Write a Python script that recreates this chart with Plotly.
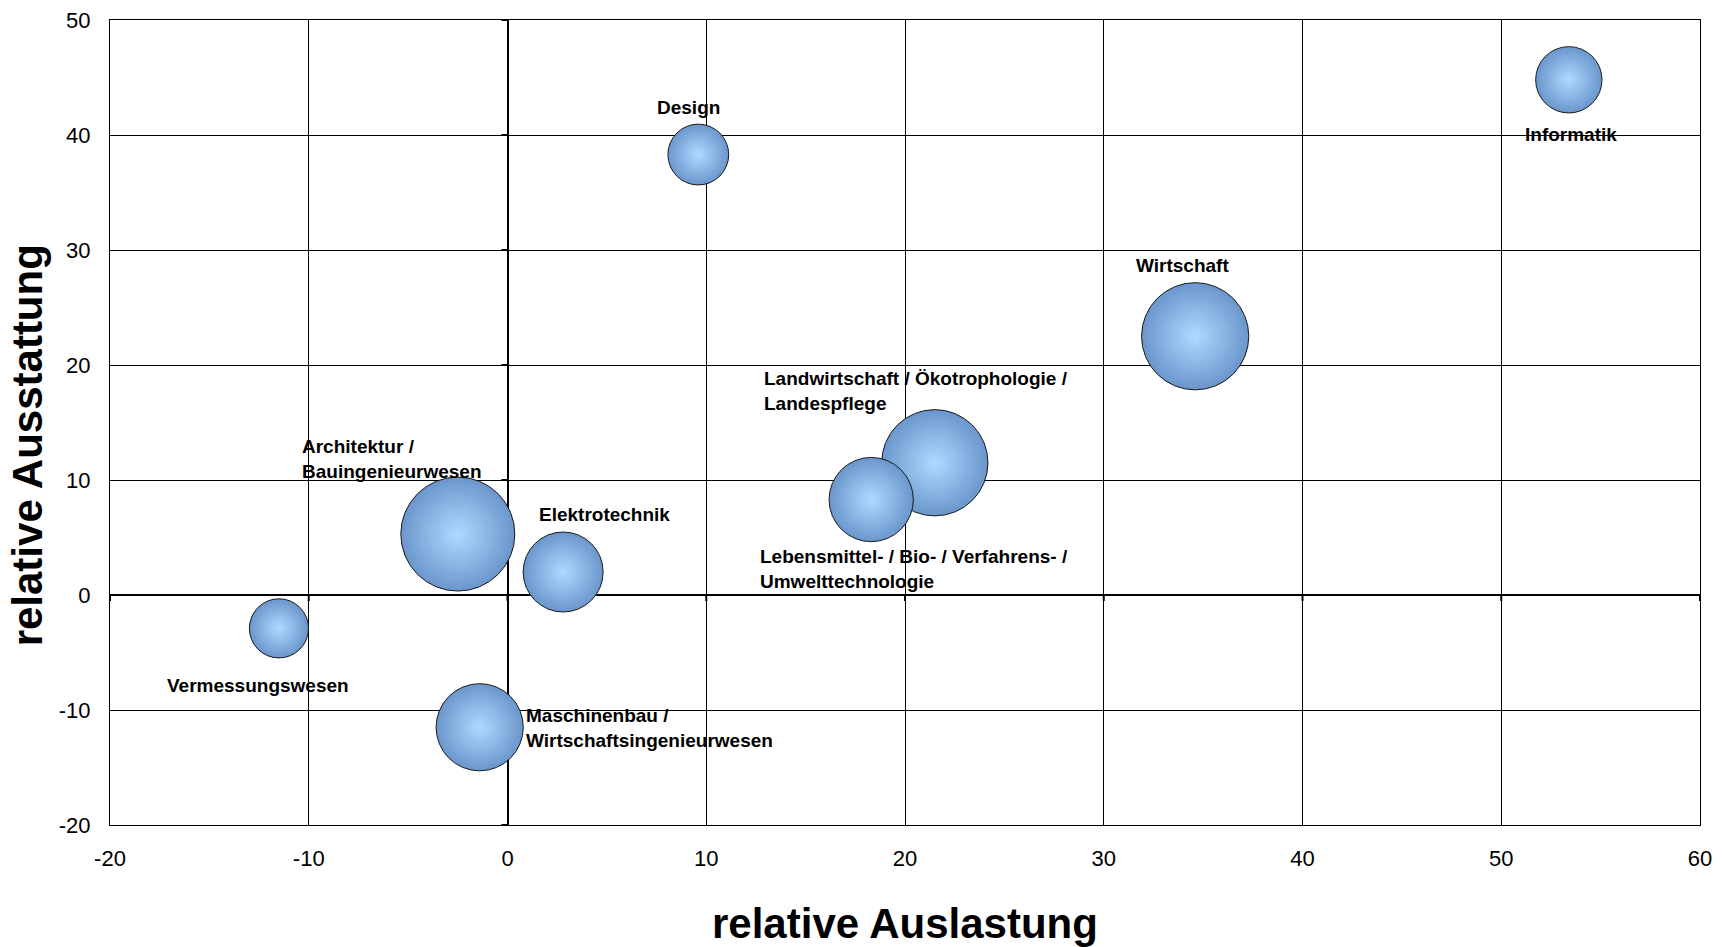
import plotly.graph_objects as go

# Fachbereiche: relative Auslastung (x), relative Ausstattung (y), Blasengröße (Gewicht)
fachbereiche = [
    "Design",
    "Informatik",
    "Wirtschaft",
    "Landwirtschaft / Ökotrophologie /<br>Landespflege",
    "Lebensmittel- / Bio- / Verfahrens- /<br>Umwelttechnologie",
    "Architektur /<br>Bauingenieurwesen",
    "Elektrotechnik",
    "Vermessungswesen",
    "Maschinenbau /<br>Wirtschaftsingenieurwesen",
]
auslastung = [9.6, 53.4, 34.6, 21.5, 18.3, -2.5, 2.8, -11.5, -1.4]
ausstattung = [38.3, 44.8, 22.5, 11.5, 8.3, 5.3, 2.0, -2.9, -11.5]
gewicht = [37, 44, 115, 113, 71, 130, 64, 35, 76]

x_ticks = [-20, -10, 0, 10, 20, 30, 40, 50, 60]
y_ticks = [-20, -10, 0, 10, 20, 30, 40, 50]

# label placement relative to each bubble centre (pixels), and text alignment
label_shift = [
    (-10, 47, "center"),
    (2, -55, "center"),
    (-13, 71, "center"),
    (-173, 72, "left"),
    (-113, -69, "left"),
    (-158, 75, "left"),
    (41, 58, "center"),
    (-21, -57, "center"),
    (44, -1, "left"),
]

FONT = "Liberation Sans, Arial, sans-serif"

fig = go.Figure()
fig.add_trace(go.Scatter(
    x=auslastung,
    y=ausstattung,
    mode="markers",
    marker=dict(
        size=gewicht,
        sizemode="area",
        sizeref=0.02,
        color="#6a96cc",
        gradient=dict(type="radial", color="#b0d9ff"),
        line=dict(color="#1a1a1a", width=1),
        opacity=1,
    ),
    hovertext=fachbereiche,
    hoverinfo="text+x+y",
    showlegend=False,
))

annotations = []
for name, xv, yv, (dx, dy, align) in zip(fachbereiche, auslastung, ausstattung, label_shift):
    annotations.append(dict(
        x=xv, y=yv, xref="x", yref="y",
        text=f"<b>{name}</b>",
        showarrow=False,
        xshift=dx, yshift=dy,
        xanchor=align,
        align=align,
        font=dict(family=FONT, size=19, color="#000"),
    ))

annotations.append(dict(
    x=0.5, y=-0.122, xref="paper", yref="paper",
    text="<b>relative Auslastung</b>", showarrow=False,
    xanchor="center", yanchor="middle",
    font=dict(family=FONT, size=42, color="#000"),
))
annotations.append(dict(
    x=-0.052, y=0.472, xref="paper", yref="paper",
    text="<b>relative Ausstattung</b>", showarrow=False, textangle=-90,
    xanchor="center", yanchor="middle",
    font=dict(family=FONT, size=42, color="#000"),
))

# small tick marks on the axes crossing at zero
shapes = []
for yv in y_ticks:
    shapes.append(dict(type="line", xref="x", yref="y", xsizemode="pixel", xanchor=0,
                       x0=-6, x1=0, y0=yv, y1=yv, layer="below",
                       line=dict(color="#000", width=2)))
for xv in x_ticks:
    shapes.append(dict(type="line", xref="x", yref="y", ysizemode="pixel", yanchor=0,
                       y0=-6, y1=0, x0=xv, x1=xv, layer="below",
                       line=dict(color="#000", width=2)))

axis_common = dict(
    showgrid=True, gridcolor="#000", gridwidth=1,
    zeroline=True, zerolinecolor="#000", zerolinewidth=2,
    showline=True, linecolor="#000", linewidth=1, mirror=True,
    automargin=False,
    ticks="", tickfont=dict(family=FONT, size=22, color="#000"),
)

fig.update_layout(
    width=1724, height=947,
    margin=dict(l=110, r=24, t=20, b=122),
    paper_bgcolor="#fff", plot_bgcolor="#fff",
    xaxis=dict(range=[-20, 60], tickvals=x_ticks, ticktext=[str(v) for v in x_ticks],
               ticklabelstandoff=14, **axis_common),
    yaxis=dict(range=[-20, 50], tickvals=y_ticks, ticktext=[str(v) for v in y_ticks],
               ticklabelstandoff=14, **axis_common),
    annotations=annotations,
    shapes=shapes,
)

fig.write_html("out.html")
